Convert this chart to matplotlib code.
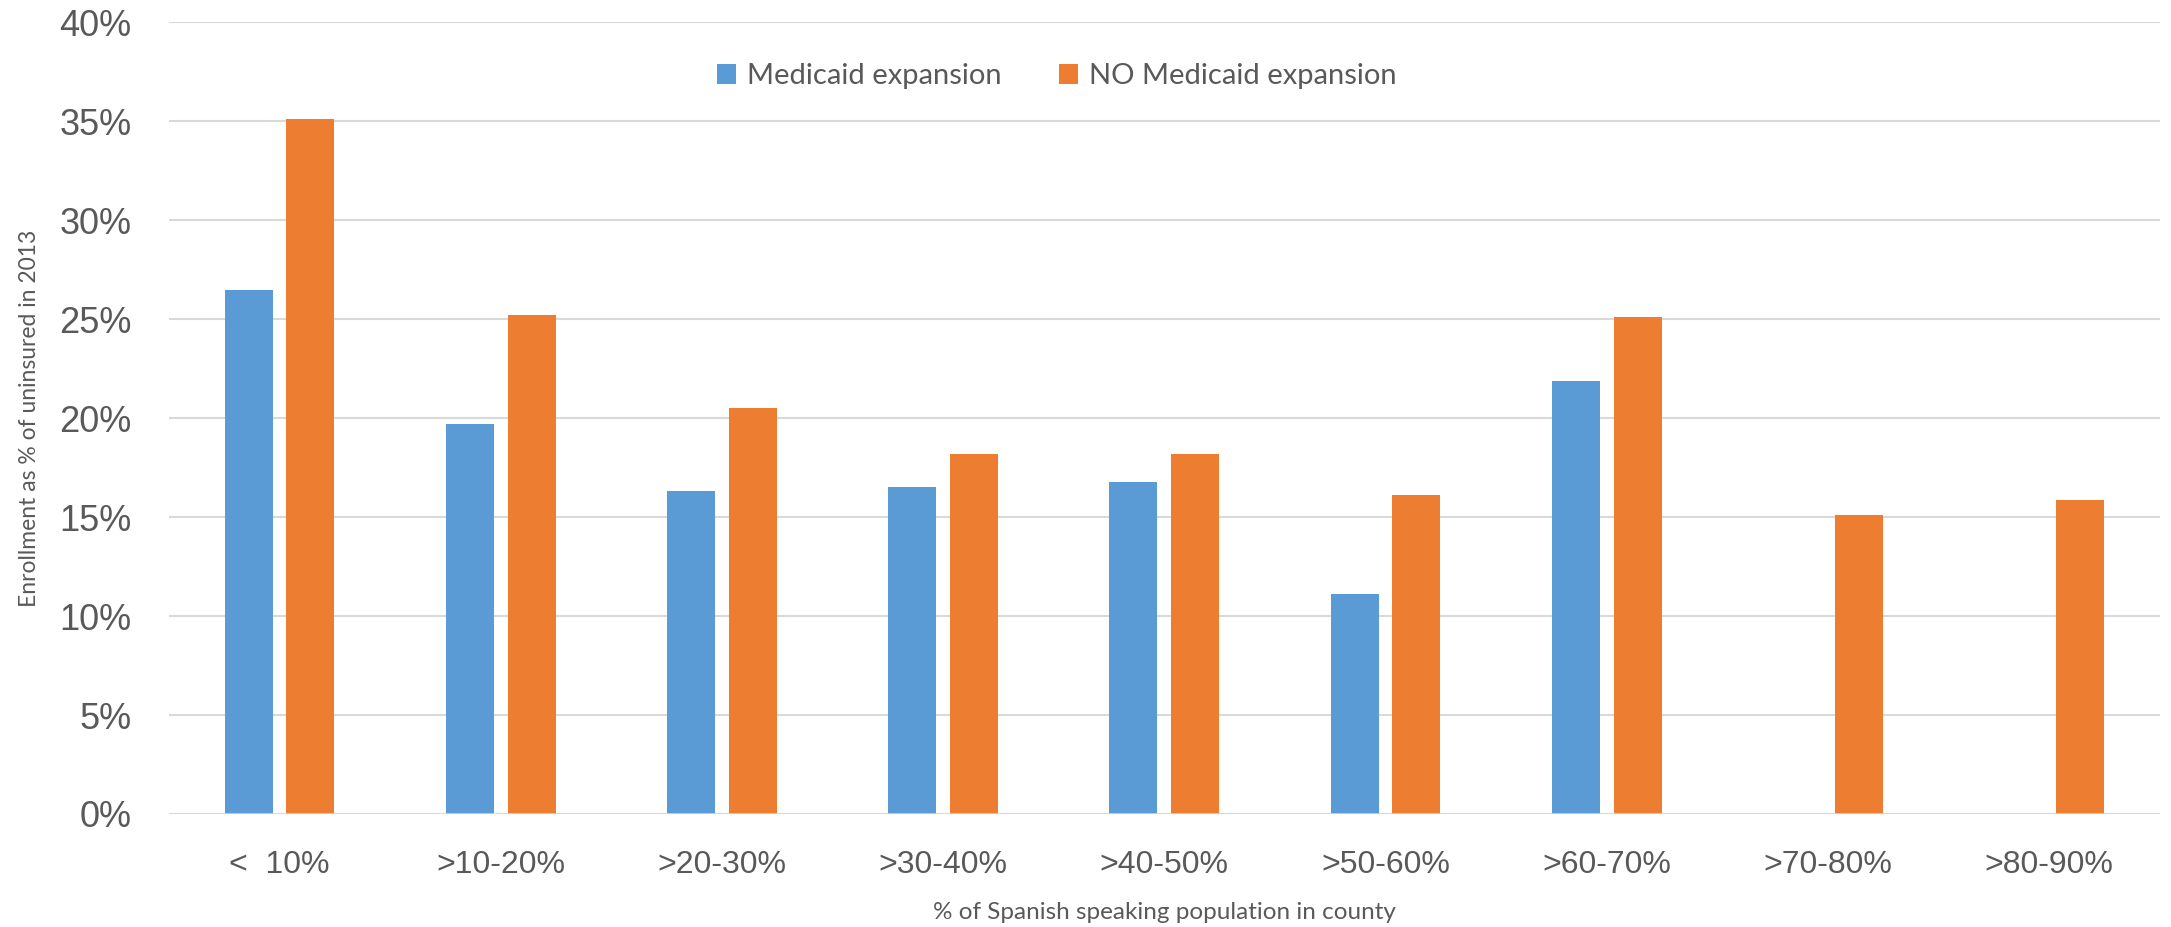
import numpy as np
import matplotlib.pyplot as plt
from matplotlib.ticker import PercentFormatter

# enrollment as % of uninsured, by share of Spanish speakers in the county
categories = ["<  10%", ">10-20%", ">20-30%", ">30-40%", ">40-50%",
              ">50-60%", ">60-70%", ">70-80%", ">80-90%"]
expansion = [26.5, 19.7, 16.3, 16.5, 16.8, 11.1, 21.9, np.nan, np.nan]
no_expansion = [35.1, 25.2, 20.5, 18.2, 18.2, 16.1, 25.1, 15.1, 15.85]

BLUE = "#5B9BD5"
ORANGE = "#ED7D31"
GRID = "#D9D9D9"
TEXT = "#595959"

fig = plt.figure(figsize=(21.71, 9.27), dpi=100)
ax = fig.add_axes([0.0778, 0.1219, 0.917, 0.854])

x = np.arange(len(categories))
w = 0.217
off = 0.14
ax.bar(x - off, expansion, w, color=BLUE, label="Medicaid expansion", zorder=3)
ax.bar(x + off, no_expansion, w, color=ORANGE, label="NO Medicaid expansion", zorder=3)

ax.set_xlim(-0.5, len(categories) - 0.5)
ax.set_ylim(0, 40)
ax.set_yticks(np.arange(0, 41, 5))
ax.yaxis.set_major_formatter(PercentFormatter(decimals=0))
ax.grid(axis="y", color=GRID, linewidth=1.5, zorder=0)
ax.set_axisbelow(True)
for s in ax.spines.values():
    s.set_visible(False)
ax.axhline(0, color=GRID, linewidth=1.8, zorder=4)

ax.set_xticks(x)
ax.set_xticklabels(categories, fontsize=23, color=TEXT, family="Liberation Sans")
for lbl in ax.get_yticklabels():
    lbl.set_fontsize(26)
    lbl.set_color(TEXT)
    lbl.set_family("Liberation Sans")
ax.tick_params(axis="x", length=0, pad=26)
ax.tick_params(axis="y", length=0, pad=27)

ax.set_ylabel("Enrollment as % of uninsured in 2013", fontsize=16.5, color=TEXT,
              family="Lato", labelpad=14)
ax.set_xlabel("% of Spanish speaking population in county", fontsize=17.5,
              color=TEXT, family="Lato", labelpad=16)

leg = ax.legend(loc="center", bbox_to_anchor=(0.446, 0.932), ncol=2, frameon=False,
                prop={"family": "Lato", "size": 21}, handlelength=0.65,
                handleheight=0.65, handletextpad=0.35, columnspacing=2.0)
for t in leg.get_texts():
    t.set_color(TEXT)

fig.savefig("out.png", dpi=100, facecolor="white")
